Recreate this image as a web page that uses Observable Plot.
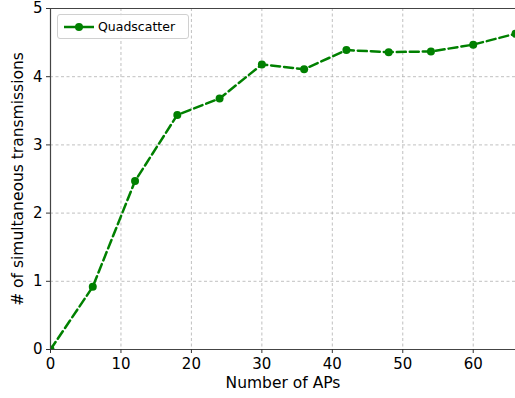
<!DOCTYPE html>
<html><head><meta charset="utf-8">
<script src="https://cdn.jsdelivr.net/npm/d3@7"></script>
<script src="https://cdn.jsdelivr.net/npm/@observablehq/plot@0.6"></script>
<style>
body{margin:0;background:#fff;font-family:"DejaVu Sans",sans-serif;}
#wrap{position:relative;width:515px;height:398px;}
#legend{position:absolute;left:57px;top:14px;width:132px;height:25px;border:1px solid #d0d0d0;border-radius:3px;background:rgba(255,255,255,0.85);box-sizing:border-box;font-size:12.5px;color:#000;}
#legend svg{position:absolute;left:6px;top:6px;}
#legend span{position:absolute;left:40px;top:4px;}
</style></head>
<body><div id="wrap"></div>
<script>
const numAPs = [0, 6, 12, 18, 24, 30, 36, 42, 48, 54, 60, 66];
const transmissions = [0, 0.92, 2.47, 3.44, 3.68, 4.18, 4.11, 4.39, 4.36, 4.37, 4.47, 4.63];
const seriesName = "Quadscatter";
const xLabel = "Number of APs";
const yLabel = "# of simultaneous transmissions";
const xTicks = [0, 10, 20, 30, 40, 50, 60];
const yTicks = [0, 1, 2, 3, 4, 5];

const data = numAPs.map((x, i) => ({x, y: transmissions[i]}));
const green = "#008000";

const chart = Plot.plot({
  width: 515, height: 398,
  marginLeft: 50, marginRight: 0, marginTop: 8, marginBottom: 49,
  style: {fontFamily: "DejaVu Sans, sans-serif", fontSize: "15px", background: "#fff", color: "#000"},
  x: {domain: [0, 66]},
  y: {domain: [0, 5]},
  marks: [
    Plot.ruleX(xTicks, {stroke: "#b0b0b0", strokeWidth: 0.8, strokeDasharray: "3,2.5"}),
    Plot.ruleY(yTicks, {stroke: "#b0b0b0", strokeWidth: 0.8, strokeDasharray: "3,2.5"}),
    Plot.line(data, {x: "x", y: "y", stroke: green, strokeWidth: 2.5, strokeDasharray: "9,4", clip: true}),
    Plot.dot(data, {x: "x", y: "y", fill: green, r: 4, clip: true}),
    Plot.ruleX([0], {stroke: "#444", strokeWidth: 1.2}),
    Plot.ruleY([0], {stroke: "#444", strokeWidth: 1.2}),
    Plot.ruleY([5], {stroke: "#444", strokeWidth: 1.2}),
    Plot.axisX({ticks: xTicks, tickSize: 4, tickPadding: 5, tickFormat: d3.format("d"), fontSize: 15, stroke: "#333", label: null}),
    Plot.axisY({ticks: yTicks, tickSize: 4, tickPadding: 4, tickFormat: d3.format("d"), fontSize: 15, stroke: "#333", label: null}),
    Plot.text([xLabel], {text: d => d, frameAnchor: "bottom", dy: 38, fontSize: 15.5, fill: "#000"}),
    Plot.text([yLabel], {text: d => d, frameAnchor: "left", textAnchor: "middle", dx: -32, rotate: -90, fontSize: 15.5, fill: "#000"})
  ]
});
const wrap = document.getElementById("wrap");
wrap.appendChild(chart);
const lg = document.createElement("div");
lg.id = "legend";
lg.innerHTML = `<svg width="32" height="12"><line x1="0" y1="6" x2="30" y2="6" stroke="${green}" stroke-width="2.5"/><circle cx="15" cy="6" r="4" fill="${green}"/></svg><span></span>`;
lg.querySelector("span").textContent = seriesName;
wrap.appendChild(lg);
</script></body></html>
